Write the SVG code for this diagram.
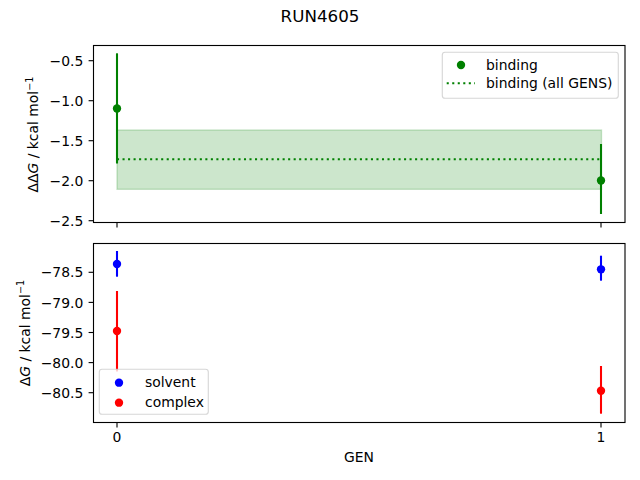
<svg xmlns="http://www.w3.org/2000/svg" width="640" height="480" viewBox="0 0 640 480">
<style>
text{font-family:"DejaVu Sans","Liberation Sans",sans-serif;fill:#000}
.tick{font-size:13.9px}
.lbl{font-size:13.9px}
.spine{fill:none;stroke:#000;stroke-width:1.11}
.tk{stroke:#000;stroke-width:1.11}
.eg{stroke:#008000;stroke-width:2.08}
.eb{stroke:#0000ff;stroke-width:2.08}
.er{stroke:#ff0000;stroke-width:2.08}
.leg{fill:#fff;fill-opacity:0.8;stroke:#cccccc;stroke-opacity:0.8;stroke-width:1.11}
</style>
<rect width="640" height="480" fill="#fff"/>
<text x="320" y="21.7" text-anchor="middle" font-size="16.7px">RUN4605</text>

<g id="top-axes">
  <rect x="117" y="130" width="484.5" height="59.3" fill="#008000" fill-opacity="0.2" stroke="#008000" stroke-opacity="0.2" stroke-width="1.39"/>
  <line x1="117" y1="159.3" x2="601" y2="159.3" stroke="#008000" stroke-width="2.08" stroke-dasharray="2.08 3.44"/>
  <line class="eg" x1="117" y1="53.3" x2="117" y2="163.5"/>
  <circle cx="117" cy="108.5" r="4.17" fill="#008000"/>
  <line class="eg" x1="601" y1="144" x2="601" y2="214"/>
  <circle cx="601" cy="180.5" r="4.17" fill="#008000"/>
  <rect class="spine" x="93.5" y="45.5" width="531.5" height="177"/>
  <g>
    <line class="tk" x1="88.6" y1="60.7" x2="93.5" y2="60.7"/>
    <line class="tk" x1="88.6" y1="100.7" x2="93.5" y2="100.7"/>
    <line class="tk" x1="88.6" y1="140.7" x2="93.5" y2="140.7"/>
    <line class="tk" x1="88.6" y1="180.7" x2="93.5" y2="180.7"/>
    <line class="tk" x1="88.6" y1="220.7" x2="93.5" y2="220.7"/>
    <line class="tk" x1="117" y1="222.5" x2="117" y2="227.4"/>
    <line class="tk" x1="601" y1="222.5" x2="601" y2="227.4"/>
    <text class="tick" x="83.3" y="65.8" text-anchor="end">−0.5</text>
    <text class="tick" x="83.3" y="105.8" text-anchor="end">−1.0</text>
    <text class="tick" x="83.3" y="145.8" text-anchor="end">−1.5</text>
    <text class="tick" x="83.3" y="185.8" text-anchor="end">−2.0</text>
    <text class="tick" x="83.3" y="225.8" text-anchor="end">−2.5</text>
  </g>
  <text class="lbl" transform="translate(38.3,134.5) rotate(-90)" text-anchor="middle">ΔΔ<tspan font-style="italic">G</tspan> / kcal mol<tspan font-size="9.7px" dy="-5.5">−1</tspan></text>
</g>

<g id="top-legend">
  <rect class="leg" x="442.3" y="52.3" width="176" height="46" rx="2.8"/>
  <circle cx="461" cy="65" r="4.17" fill="#008000"/>
  <text class="lbl" x="486" y="70">binding</text>
  <line x1="446.7" y1="83.3" x2="475" y2="83.3" stroke="#008000" stroke-width="2.08" stroke-dasharray="2.08 3.44"/>
  <text class="lbl" x="486" y="88">binding (all GENS)</text>
</g>

<g id="bottom-axes">
  <line class="eb" x1="117" y1="251" x2="117" y2="276.7"/>
  <circle cx="117" cy="264" r="4.17" fill="#0000ff"/>
  <line class="er" x1="117" y1="291" x2="117" y2="371.5"/>
  <circle cx="117" cy="331" r="4.17" fill="#ff0000"/>
  <line class="eb" x1="601" y1="255.7" x2="601" y2="280.7"/>
  <circle cx="601" cy="269.3" r="4.17" fill="#0000ff"/>
  <line class="er" x1="601" y1="366" x2="601" y2="413.7"/>
  <circle cx="601" cy="390.7" r="4.17" fill="#ff0000"/>
  <rect class="spine" x="93.5" y="243.5" width="531.5" height="179"/>
  <g>
    <line class="tk" x1="88.6" y1="272.3" x2="93.5" y2="272.3"/>
    <line class="tk" x1="88.6" y1="302.4" x2="93.5" y2="302.4"/>
    <line class="tk" x1="88.6" y1="332.5" x2="93.5" y2="332.5"/>
    <line class="tk" x1="88.6" y1="362.6" x2="93.5" y2="362.6"/>
    <line class="tk" x1="88.6" y1="392.7" x2="93.5" y2="392.7"/>
    <line class="tk" x1="117" y1="422.5" x2="117" y2="427.4"/>
    <line class="tk" x1="601" y1="422.5" x2="601" y2="427.4"/>
    <text class="tick" x="83.3" y="277.4" text-anchor="end">−78.5</text>
    <text class="tick" x="83.3" y="307.5" text-anchor="end">−79.0</text>
    <text class="tick" x="83.3" y="337.6" text-anchor="end">−79.5</text>
    <text class="tick" x="83.3" y="367.7" text-anchor="end">−80.0</text>
    <text class="tick" x="83.3" y="397.8" text-anchor="end">−80.5</text>
    <text class="tick" x="117" y="442" text-anchor="middle">0</text>
    <text class="tick" x="601" y="442" text-anchor="middle">1</text>
  </g>
  <text class="lbl" x="359" y="462" text-anchor="middle">GEN</text>
  <text class="lbl" transform="translate(29.7,333) rotate(-90)" text-anchor="middle">Δ<tspan font-style="italic">G</tspan> / kcal mol<tspan font-size="9.7px" dy="-5.5">−1</tspan></text>
</g>

<g id="bottom-legend">
  <rect class="leg" x="99.3" y="369.3" width="109" height="45" rx="2.8"/>
  <circle cx="119" cy="382.7" r="4.17" fill="#0000ff"/>
  <text class="lbl" x="145" y="386.5">solvent</text>
  <circle cx="119" cy="402.7" r="4.17" fill="#ff0000"/>
  <text class="lbl" x="145" y="406.5">complex</text>
</g>
</svg>
